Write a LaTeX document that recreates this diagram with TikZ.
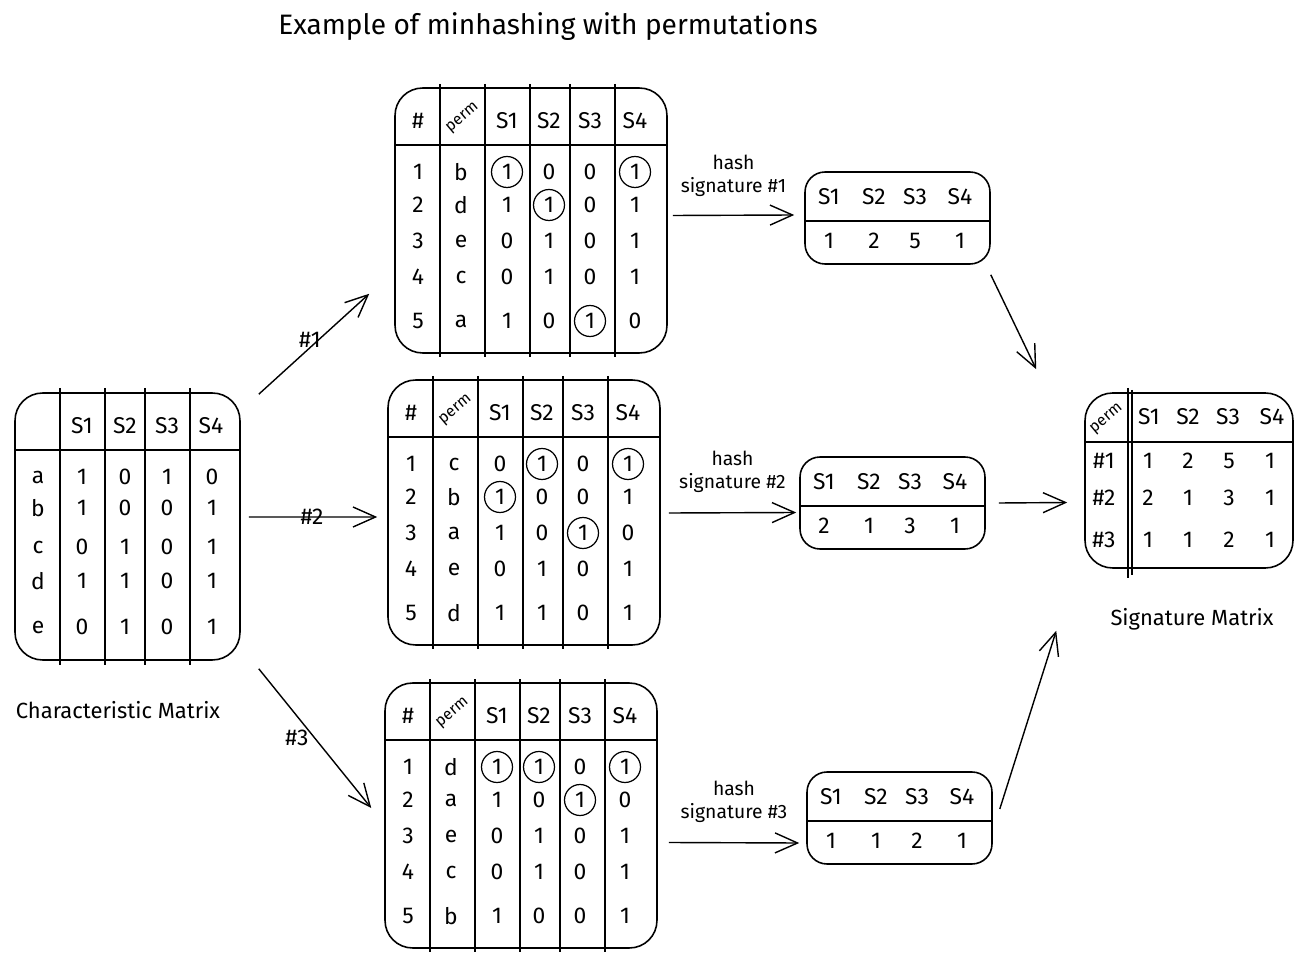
\documentclass[tikz,border=0pt]{standalone}
\usepackage{fontspec}
\setmainfont{Fira Sans}
\usetikzlibrary{arrows.meta,calc}

\tikzset{
  tbl/.style={draw, rounded corners=0.55cm, line width=0.9pt},
  grid/.style={line width=0.7pt},
  cell/.style={inner sep=0pt, font=\fontsize{13}{15}\selectfont},
  perm/.style={inner sep=0pt, rotate=40, font=\fontsize{9}{10}\selectfont},
  hit/.style={line width=0.7pt},
  arrow/.style={line width=0.8pt, -{Straight Barb[length=4.5mm,width=4mm]}},
  hashlabel/.style={align=center, font=\fontsize{11}{13}\selectfont},
  caption/.style={font=\fontsize{12.5}{14}\selectfont}
}

% permutation table: name, left, top, rows
\newcommand{\permtable}[4]{%
  \begin{scope}[shift={(#2,#3)}]
    \node[tbl, minimum width=5.44cm, minimum height=5.3cm] (#1) at (136,132.5) {};
    \foreach \vx in {45,90,135,175,220}
      \draw[grid] (\vx,-4) -- (\vx,269);
    \draw[grid] (0,57) -- (272,57);
    \node[cell] (#1-h) at (23,33) {\#};
    \node[perm] (#1-p) at (68,30) {perm};
    \foreach \s/\cx in {S1/112,S2/154,S3/195,S4/240}
      \node[cell] (#1-\s) at (\cx,33) {\s};
    \foreach \l/\va/\vb/\vc/\vd [count=\r] in {#4} {
      \pgfmathsetmacro{\ry}{{84,117,153,189,233}[\r-1]}
      \node[cell] (#1-\r-n) at (23,\ry) {\r};
      \node[cell] (#1-\r-l) at (66,\ry) {\l};
      \node[cell] (#1-\r-1) at (112,\ry) {\va};
      \node[cell] (#1-\r-2) at (154,\ry) {\vb};
      \node[cell] (#1-\r-3) at (195,\ry) {\vc};
      \node[cell] (#1-\r-4) at (240,\ry) {\vd};
    }
  \end{scope}}

% hash signature box: name, left, top, values
\newcommand{\sigbox}[4]{%
  \begin{scope}[shift={(#2,#3)}]
    \node[tbl, rounded corners=0.4cm, minimum width=3.7cm, minimum height=1.84cm] (#1) at (92.5,46) {};
    \draw[grid] (0,49) -- (185,49);
    \foreach \s/\cx in {S1/24,S2/69,S3/110,S4/155}
      \node[cell] (#1-\s) at (\cx,25) {\s};
    \foreach \v [count=\k] in {#4} {
      \pgfmathsetmacro{\vx}{{24,69,110,155}[\k-1]}
      \node[cell] (#1-\k) at (\vx,69) {\v};
    }
  \end{scope}}

\begin{document}
\begin{tikzpicture}[x=0.02cm, y=-0.02cm]
\useasboundingbox (0,0) rectangle (1305,962);

% Title
\node[font=\fontsize{16}{18}\selectfont] (title) at (548,27) {Example of minhashing with permutations};

% Characteristic matrix
\node[tbl, minimum width=4.5cm, minimum height=5.34cm] (cm) at (127.5,526.5) {};
\foreach \vx in {60,105,145,190}
  \draw[grid] (\vx,388) -- (\vx,665);
\draw[grid] (15,450) -- (240,450);
\foreach \s/\cx in {S1/82,S2/125,S3/167,S4/211}
  \node[cell] (cm-\s) at (\cx,426) {\s};
\foreach \l/\ry/\va/\vb/\vc/\vd in {a/477/1/0/1/0, b/508/1/0/0/1, c/547/0/1/0/1, d/581/1/1/0/1, e/627/0/1/0/1} {
  \node[cell] (cm-\l) at (38,\ry) {\l};
  \node[cell] (cm-\l-1) at (82,\ry) {\va};
  \node[cell] (cm-\l-2) at (125,\ry) {\vb};
  \node[cell] (cm-\l-3) at (167,\ry) {\vc};
  \node[cell] (cm-\l-4) at (212,\ry) {\vd};
}
\node[caption] (cmcap) at (118,710) {Characteristic Matrix};

% Permutation tables
\permtable{p1}{395}{88}{b/1/0/0/1, d/1/1/0/1, e/0/1/0/1, c/0/1/0/1, a/1/0/1/0}
\permtable{p2}{388}{380}{c/0/1/0/1, b/1/0/0/1, a/1/0/1/0, e/0/1/0/1, d/1/1/0/1}
\permtable{p3}{385}{683}{d/1/1/0/1, a/1/0/1/0, e/0/1/0/1, c/0/1/0/1, b/1/0/0/1}

% First ones per column
\foreach \t in {p1-1-1, p1-1-4, p1-2-2, p1-5-3, p2-1-2, p2-1-4, p2-2-1, p2-3-3, p3-1-1, p3-1-2, p3-1-4, p3-2-3}
  \draw[hit] (\t) circle[radius=0.31cm];

% Hash signatures
\sigbox{h1}{805}{172}{1,2,5,1}
\sigbox{h2}{800}{457}{2,1,3,1}
\sigbox{h3}{807}{772}{1,1,2,1}

% Signature matrix
\node[tbl, minimum width=4.16cm, minimum height=3.5cm] (sm) at (1189,480.5) {};
\draw[grid] (1128,388) -- (1128,578);
\draw[grid] (1132,390) -- (1132,575);
\draw[grid] (1085,442) -- (1293,442);
\node[perm] (sm-p) at (1107,419) {perm};
\foreach \s/\cx in {S1/1149,S2/1188,S3/1228,S4/1272}
  \node[cell] (sm-\s) at (\cx,417) {\s};
\foreach \r/\ry/\va/\vb/\vc/\vd in {1/461/1/2/5/1, 2/498/2/1/3/1, 3/540/1/1/2/1} {
  \node[cell] (sm-\r) at (1104,\ry) {\#\r};
  \node[cell] (sm-\r-1) at (1148,\ry) {\va};
  \node[cell] (sm-\r-2) at (1188,\ry) {\vb};
  \node[cell] (sm-\r-3) at (1229,\ry) {\vc};
  \node[cell] (sm-\r-4) at (1270,\ry) {\vd};
}
\node[caption] (smcap) at (1192,619) {Signature Matrix};

% Arrows
\draw[arrow] ($(cm.north east)+(18,2)$) -- ($(p1.south west)+(-25,-60)$);
\draw[arrow] ($(cm.east)+(8,-9.5)$) -- ($(p2.west)+(-10,4.5)$);
\draw[arrow] ($(cm.south east)+(18,8)$) -- ($(p3.west)+(-13,-7.5)$);
\node[cell] (a1) at (310,340) {\#1};
\node[cell] (a2) at (312,517) {\#2};
\node[cell] (a3) at (297,738) {\#3};

\draw[arrow] ($(p1.east)+(5,-5)$) -- node[above=7pt, hashlabel] {hash\\signature \#1} ($(h1.west)+(-10,-3)$);
\draw[arrow] ($(p2.east)+(8,0.5)$) -- node[above=8pt, hashlabel] {hash\\signature \#2} ($(h2.west)+(-3,9.5)$);
\draw[arrow] ($(p3.east)+(11,27)$) -- node[above=8pt, hashlabel] {hash\\signature \#3} ($(h3.west)+(-7,25)$);

\draw[arrow] ($(h1.south east)+(0,10)$) -- ($(sm.north west)+(-48,-23)$);
\draw[arrow] ($(h2.east)+(13,0)$) -- ($(sm.west)+(-17,22)$);
\draw[arrow] ($(h3.east)+(7,-9)$) -- ($(sm.south west)+(-28,62)$);

\end{tikzpicture}
\end{document}
